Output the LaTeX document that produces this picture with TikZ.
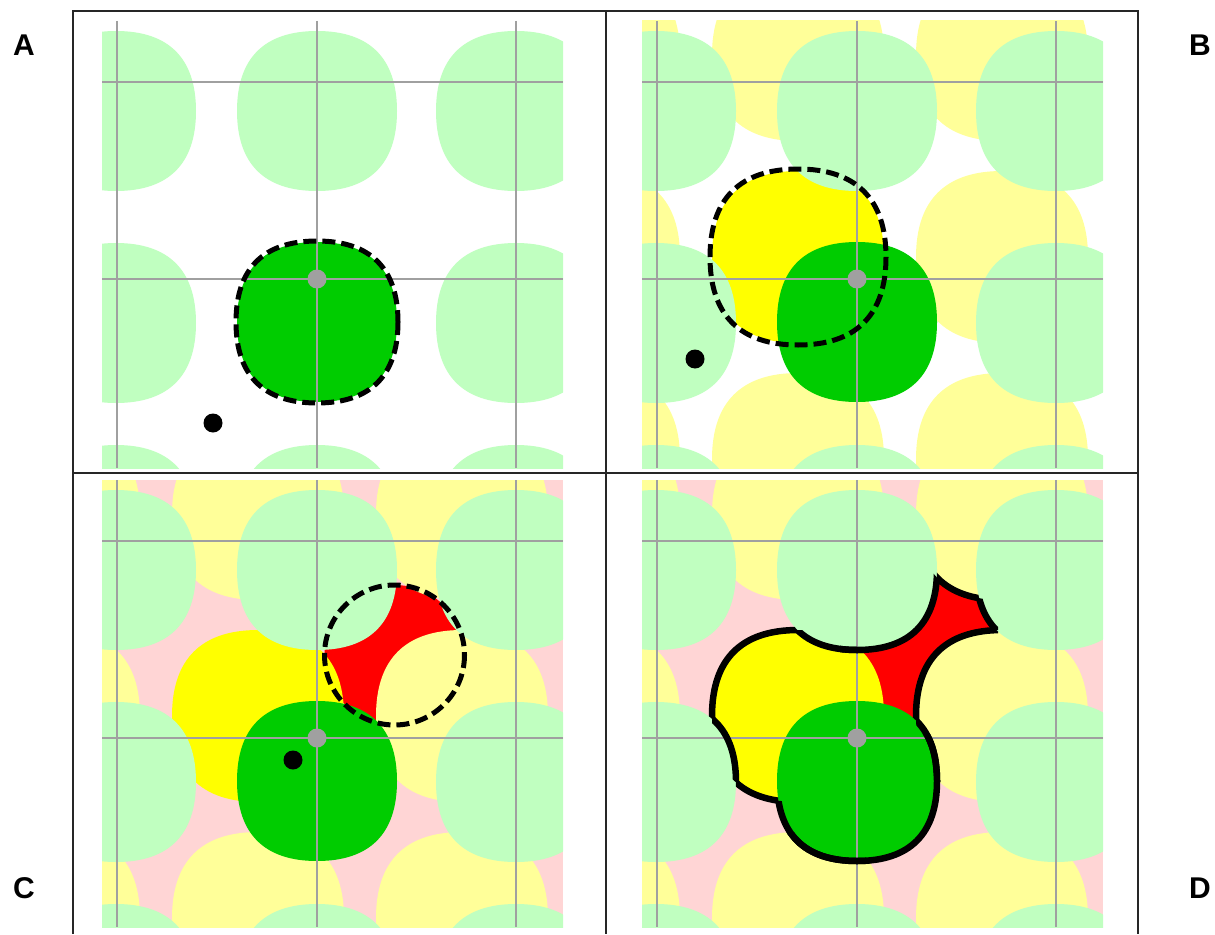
\documentclass[tikz,border=0pt]{standalone}
\usepackage{fontspec}
\setmainfont{Liberation Sans}
\definecolor{lgreen}{HTML}{C0FFC0}
\definecolor{dgreen}{HTML}{00CC00}
\definecolor{lyellow}{HTML}{FFFF99}
\definecolor{byellow}{HTML}{FFFF00}
\definecolor{lpink}{HTML}{FFD5D5}
\definecolor{gridgray}{HTML}{A0A0A0}
\newcommand\kk{0.66}
% rounded-square blob: centre x, centre y, half size
\newcommand\blb[3]{({#1+#3},{#2}) .. controls ({#1+#3},{#2+\kk*#3}) and ({#1+\kk*#3},{#2+#3}) .. ({#1},{#2+#3})
 .. controls ({#1-\kk*#3},{#2+#3}) and ({#1-#3},{#2+\kk*#3}) .. ({#1-#3},{#2})
 .. controls ({#1-#3},{#2-\kk*#3}) and ({#1-\kk*#3},{#2-#3}) .. ({#1},{#2-#3})
 .. controls ({#1+\kk*#3},{#2-#3}) and ({#1+#3},{#2-\kk*#3}) .. ({#1+#3},{#2}) -- cycle}
\newcommand\LGall{\blb{116}{111}{80}\blb{317}{111}{80}\blb{516}{111}{80}\blb{116}{323}{80}\blb{516}{323}{80}\blb{116}{525}{80}\blb{317}{525}{80}\blb{516}{525}{80}}
\newcommand\LYall{\blb{54}{55}{86}\blb{258}{55}{86}\blb{462}{55}{86}\blb{54}{257}{86}\blb{462}{257}{86}\blb{54}{459}{86}\blb{258}{459}{86}\blb{462}{459}{86}}
\newcommand\BYp{\blb{258}{257}{86}}
\newcommand\DGp{\blb{317}{322}{80}}
\newcommand\Rectp{(300,100) rectangle (458,275)}
\newcommand\bigbox{(-100,-100) rectangle (700,700)}
\newcommand\imgclip{\clip (102,21) rectangle (563,468);}
\newcommand\gridlines{\draw[gridl] (117,21) -- (117,468) (317,21) -- (317,468) (516,21) -- (516,468) (102,82) -- (563,82) (102,279) -- (563,279);}
\newcommand\graydot{\fill[gridgray] (317,279) circle[radius=9.5];}
\begin{document}
\begin{tikzpicture}[x=1pt,y=-1pt,
  gridl/.style={draw=gridgray,line width=1.5pt},
  dashl/.style={draw=black,line width=5pt,dash pattern=on 13pt off 6pt},
  olin/.style={draw=black,line width=6.5pt,line join=round},
  framel/.style={draw=black!85,line width=2pt},
  lbl/.style={font=\fontsize{30}{30}\selectfont\bfseries,inner sep=0pt}]
\useasboundingbox[fill=white] (0,0) rectangle (1215,934);

% ---------- Panel A ----------
\begin{scope}
 \begin{scope}\imgclip
  \fill[lgreen] \LGall;
  \fill[dgreen] \DGp;
  \gridlines
  \graydot
 \end{scope}
 \draw[dashl] \blb{317}{322}{81};
 \fill[black] (213,423) circle[radius=9.5];
\end{scope}

% ---------- Panel B ----------
\begin{scope}[shift={(540,0)}]
 \begin{scope}\imgclip
  \fill[lyellow] \LYall;
  \fill[byellow] \BYp;
  \fill[lgreen] \LGall;
  \fill[dgreen] \DGp;
  \gridlines
  \graydot
 \end{scope}
 \draw[dashl] \blb{258}{257}{88};
 \fill[black] (155,359) circle[radius=9.5];
\end{scope}

% ---------- Panel C ----------
\begin{scope}[shift={(0,459)}]
 \begin{scope}\imgclip
  \fill[lpink] (102,21) rectangle (563,468);
  \fill[red] (394.5,196) circle[radius=70];
  \fill[lyellow] \LYall;
  \fill[byellow] \BYp;
  \fill[lgreen] \LGall;
  \fill[dgreen] \DGp;
  \gridlines
  \graydot
 \end{scope}
 \draw[dashl] (394.5,196) circle[radius=70];
 \fill[black] (293,301) circle[radius=9.5];
\end{scope}

% ---------- Panel D ----------
\begin{scope}[shift={(540,459)}]
 \begin{scope}\imgclip
  \fill[lpink] (102,21) rectangle (563,468);
  \fill[red] \Rectp;
  \fill[lyellow] \LYall;
  \fill[byellow] \BYp;
  \fill[lgreen] \LGall;
  \fill[dgreen] \DGp;
  \gridlines
  \graydot
 \end{scope}
 % outline of the union (red pocket + visible yellow + dark green)
 \begin{scope}[even odd rule]
  \clip \Rectp;
  \begin{scope}[even odd rule]\clip \bigbox \BYp;
  \begin{scope}[even odd rule]\clip \bigbox \LGall;
  \begin{scope}[even odd rule]\clip \bigbox \DGp;
  \draw[olin] \LYall;
  \end{scope}\end{scope}\end{scope}
 \end{scope}
 \begin{scope}[even odd rule]
  \clip \bigbox \Rectp;
  \begin{scope}[even odd rule]\clip \bigbox \LGall;
  \begin{scope}[even odd rule]\clip \bigbox \DGp;
  \draw[olin] \BYp;
  \end{scope}\end{scope}
 \end{scope}
 \begin{scope}[even odd rule]
  \clip \Rectp;
  \begin{scope}[even odd rule]\clip \bigbox \LYall;
  \begin{scope}[even odd rule]\clip \bigbox \DGp;
  \draw[olin] \LGall;
  \end{scope}\end{scope}
 \end{scope}
 \begin{scope}[even odd rule]
  \clip \BYp;
  \begin{scope}[even odd rule]\clip \bigbox \DGp;
  \draw[olin] \LGall;
  \end{scope}
 \end{scope}
 \begin{scope}[even odd rule]
  \clip \bigbox \Rectp;
  \begin{scope}[even odd rule]\clip \bigbox \BYp;
  \draw[olin] \DGp;
  \end{scope}
 \end{scope}
 \begin{scope}
  \clip \LYall;
  \draw[olin] \DGp;
 \end{scope}
\end{scope}

% ---------- frame ----------
\coordinate (tl) at (73,11);
\coordinate (tr) at (1138,11);
\coordinate (bl) at (73,934);
\coordinate (br) at (1138,934);
\coordinate (tm) at (606,11);
\coordinate (bm) at (606,934);
\coordinate (ml) at (73,473);
\coordinate (mr) at (1138,473);
\draw[framel] (bl) -- (tl) -- (tr) -- (br);
\draw[framel] (tm) -- (bm);
\draw[framel] (ml) -- (mr);

% ---------- labels ----------
\node[lbl] (labA) at (24,45) {A};
\node[lbl] (labB) at (1200,45) {B};
\node[lbl] (labC) at (24,888) {C};
\node[lbl] (labD) at (1200,888) {D};
\end{tikzpicture}
\end{document}
